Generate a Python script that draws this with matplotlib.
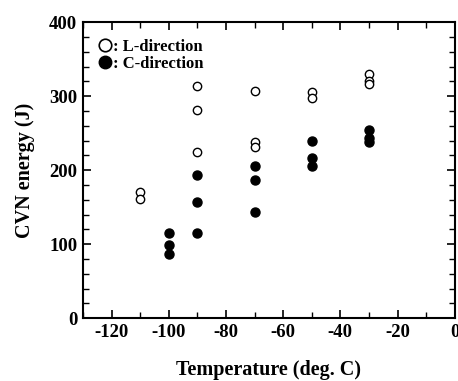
import matplotlib.pyplot as plt
from matplotlib.ticker import MultipleLocator
from matplotlib.lines import Line2D

# L-direction (open circles)
l_temp = [-110, -110, -90, -90, -90, -70, -70, -70, -50, -50, -30, -30, -30]
l_energy = [171, 161, 313, 281, 225, 307, 238, 231, 305, 297, 330, 320, 317]

# C-direction (filled circles)
c_temp = [-100, -100, -100, -90, -90, -90, -70, -70, -70, -50, -50, -50, -30, -30, -30]
c_energy = [115, 99, 87, 193, 157, 115, 205, 186, 143, 239, 216, 206, 254, 243, 238]

plt.rcParams['font.family'] = ['Liberation Serif', 'DejaVu Serif']
plt.rcParams['font.weight'] = 'bold'
plt.rcParams['axes.unicode_minus'] = False

fig = plt.figure(figsize=(4.58, 3.81), dpi=100)
ax = fig.add_axes([0.181, 0.165, 0.812, 0.777])

ax.plot(l_temp, l_energy, 'o', mfc='white', mec='black', mew=1.0, ms=6)
ax.plot(c_temp, c_energy, 'o', mfc='black', mec='black', ms=6.5)

ax.set_xlim(-130, 0)
ax.set_ylim(0, 400)
ax.xaxis.set_major_locator(MultipleLocator(20))
ax.xaxis.set_minor_locator(MultipleLocator(10))
ax.yaxis.set_major_locator(MultipleLocator(100))
ax.yaxis.set_minor_locator(MultipleLocator(20))
ax.tick_params(which='both', direction='in', top=True, right=True, labelsize=13.5)
ax.tick_params(which='major', length=6, width=1.2, pad=4)
ax.tick_params(which='minor', length=4, width=1.0)
for s in ax.spines.values():
    s.set_linewidth(1.5)
for lab in ax.get_xticklabels() + ax.get_yticklabels():
    lab.set_fontweight('bold')

ax.set_xlabel('Temperature (deg. C)', fontsize=14.5, fontweight='bold', labelpad=14)
ax.set_ylabel('CVN energy (J)', fontsize=14.5, fontweight='bold', labelpad=10)

handles = [
    Line2D([], [], ls='', marker='o', mfc='white', mec='black', mew=1.2, ms=9),
    Line2D([], [], ls='', marker='o', mfc='black', mec='black', ms=9),
]
ax.legend(handles, [': L-direction', ': C-direction'], loc='upper left',
          frameon=False, handlelength=0.6, handletextpad=0.2, labelspacing=0.05,
          borderaxespad=0.6, prop={'weight': 'bold', 'size': 12})

fig.savefig('out.png', dpi=100)
